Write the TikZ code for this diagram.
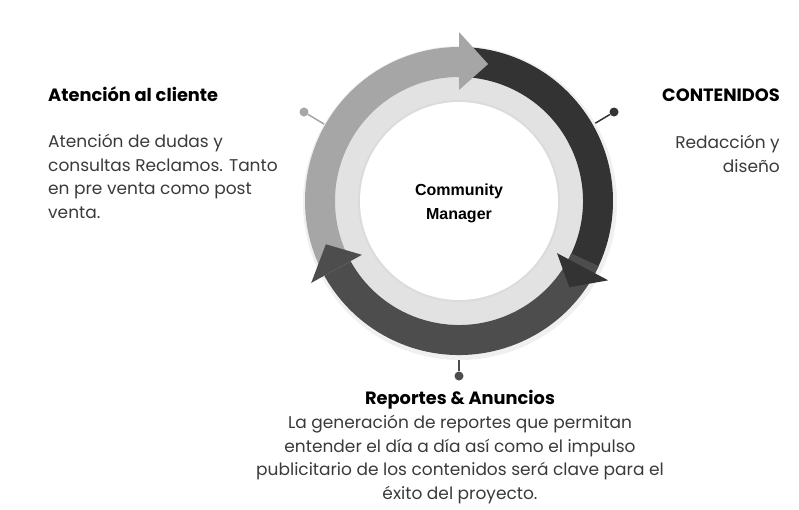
\documentclass[tikz,border=0pt]{standalone}
\usepackage{fontspec}
\setmainfont{Poppins}
\newfontfamily\cmfont{Liberation Sans}
\definecolor{arrowLight}{HTML}{A6A6A6}
\definecolor{arrowDark}{HTML}{333333}
\definecolor{arrowMid}{HTML}{4D4D4D}
\definecolor{ringGray}{HTML}{E2E2E2}
\definecolor{bodyText}{HTML}{3A3A3A}
\tikzset{heading/.style={inner sep=0pt,font=\fontsize{17.8}{20}\selectfont\bfseries},
  bodytext/.style={inner sep=0pt,text=bodyText,font=\fontsize{17}{23.5}\selectfont},
  pin/.style={circle,inner sep=0pt,minimum size=9pt}}

\begin{document}
\begin{tikzpicture}[x=1pt,y=1pt]
      \useasboundingbox (-459,-308) rectangle (340,201);

      % pins behind the ring
      \node[pin,fill=arrowLight] (pinL) at (-155,89) {};
      \node[pin,fill=arrowDark] (pinR) at (155,89) {};
      \node[pin,fill=arrowMid] (pinB) at (0,-175) {};
      \coordinate (ringL) at (-130,74);
      \coordinate (ringR) at (130,74);
      \coordinate (ringB) at (0,-150);
      \draw[arrowLight,line width=1.5pt] (pinL) -- (ringL);
      \draw[arrowDark,line width=1.5pt] (pinR) -- (ringR);
      \draw[arrowMid,line width=1.5pt] (pinB) -- (ringB);

      \fill[black!6] (1,-2) circle[radius=157];
      \fill[ringGray] (0,0) circle[radius=124];
      \fill[black!14] (0,0) circle[radius=101];
      \fill[white] (0,0) circle[radius=99];

      \foreach \col/\from/\to in {arrowLight/205/90, arrowDark/88/-28, arrowMid/-25/-151}
        \fill[\col] (\from:154) arc[start angle=\from,end angle=\to,radius=154]
          -- (\to:124) arc[start angle=\to,end angle=\from,radius=124] -- cycle;
      \foreach \col/\at/\tip in {arrowLight/90/78, arrowDark/-28/-38, arrowMid/-151/-162}
        \fill[\col] (\at:111) -- (\at:169) -- (\tip:140) -- cycle;

      \node[align=center,font=\cmfont\fontsize{16}{24}\selectfont\bfseries] (cm) at (0,-2) {Community\\Manager};

      \node[heading,anchor=base west] (atencion) at (-411,100) {Atención al cliente};
      \node[bodytext,align=left,anchor=base west] (atencionTxt) at (-411,-17)
        {Atención de dudas y\\consultas Reclamos. Tanto\\en pre venta como post\\venta.};

      \node[heading,anchor=base east] (contenidos) at (321,100) {CONTENIDOS};
      \node[bodytext,align=right,anchor=base east] (contenidosTxt) at (321,29) {Redacción y\\diseño};

      \node[heading,anchor=base] (reportes) at (1,-203) {Reportes \& Anuncios};
      \node[bodytext,align=center,anchor=base] (reportesTxt) at (1,-298)
        {La generación de reportes que permitan\\entender el día a día así como el impulso\\publicitario de los contenidos será clave para el\\éxito del proyecto.};
    \end{tikzpicture}
\end{document}
